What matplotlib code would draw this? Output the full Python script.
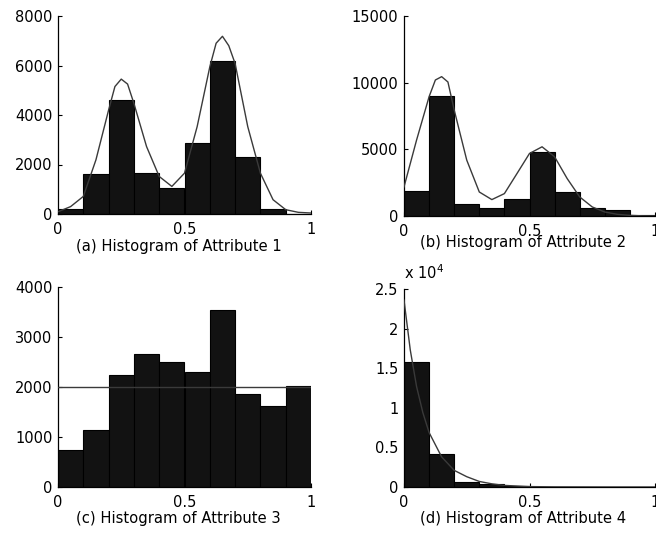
import numpy as np
import matplotlib.pyplot as plt

# bin counts per attribute (10 equal bins over [0, 1])
bin_edges = [0.0, 0.1, 0.2, 0.3, 0.4, 0.5, 0.6, 0.7, 0.8, 0.9, 1.0]
counts_1 = [200, 1610, 4600, 1650, 1050, 2860, 6170, 2300, 200, 20]
counts_2 = [1880, 9020, 880, 580, 1250, 4790, 1800, 580, 430, 80]
counts_3 = [750, 1150, 2250, 2660, 2500, 2300, 3550, 1870, 1620, 2030]
counts_4 = [15800, 4170, 670, 400, 120, 60, 40, 30, 20, 20]

# fitted density curves, sampled points
fit_x_1 = [0.0, 0.05, 0.1, 0.15, 0.2, 0.225, 0.25, 0.275, 0.3, 0.35, 0.4, 0.45,
           0.5, 0.55, 0.6, 0.625, 0.65, 0.675, 0.7, 0.75, 0.8, 0.85, 0.9, 0.95, 1.0]
fit_y_1 = [90, 300, 710, 2190, 4200, 5150, 5450, 5250, 4470, 2725, 1517, 1114,
           1650, 3530, 5945, 6900, 7180, 6800, 6080, 3530, 1650, 577, 175, 67, 40]
fit_x_2 = [0.0, 0.05, 0.1, 0.125, 0.15, 0.175, 0.2, 0.25, 0.3, 0.35, 0.4, 0.45,
           0.5, 0.55, 0.6, 0.65, 0.7, 0.75, 0.8, 0.85, 0.9, 0.95, 1.0]
fit_y_2 = [2180, 5690, 8950, 10200, 10450, 10050, 7950, 4190, 1800, 1230, 1680,
           3180, 4690, 5190, 4440, 2810, 1430, 677, 300, 125, 50, 10, 0]
fit_x_3 = [0.0, 1.0]
fit_y_3 = [2000, 2000]
fit_x_4 = [0.0, 0.025, 0.05, 0.075, 0.1, 0.15, 0.2, 0.25, 0.3, 0.35, 0.4, 0.5,
           0.6, 0.8, 1.0]
fit_y_4 = [23600, 17300, 12700, 9400, 6870, 3800, 2100, 1300, 700, 400, 200, 50,
           20, 5, 0]

captions = ['(a) Histogram of Attribute 1', '(b) Histogram of Attribute 2',
            '(c) Histogram of Attribute 3', '(d) Histogram of Attribute 4']

plt.rcParams['font.family'] = 'DejaVu Sans'
plt.rcParams['font.size'] = 10.5

fig = plt.figure(figsize=(6.56, 5.42), dpi=100)
W, H = 656.0, 542.0


def add_axes_px(left, top, right, bottom):
    return fig.add_axes([left / W, 1 - bottom / H, (right - left) / W, (bottom - top) / H])


panels = [
    (add_axes_px(58, 16, 311, 214), counts_1, fit_x_1, fit_y_1, 8000, [0, 2000, 4000, 6000, 8000], 1.0, 247),
    (add_axes_px(404, 16, 655, 216), counts_2, fit_x_2, fit_y_2, 15000, [0, 5000, 10000, 15000], 1.0, 243),
    (add_axes_px(58, 287, 311, 487), counts_3, fit_x_3, fit_y_3, 4000, [0, 1000, 2000, 3000, 4000], 1.0, 519),
    (add_axes_px(404, 289, 655, 487), counts_4, fit_x_4, fit_y_4, 25000, [0, 5000, 10000, 15000, 20000, 25000], 1e4, 519),
]

centers = np.array(bin_edges[:-1]) + 0.05
for i, (ax, counts, fx, fy, ymax, yticks, scale, cap_y) in enumerate(panels):
    ax.bar(centers, np.array(counts) / scale, width=0.1, color='#121212',
           edgecolor='#000000', linewidth=0.8, zorder=2)
    ax.plot(fx, np.array(fy) / scale, color='#3a3a3a', linewidth=1.0, zorder=3)
    ax.set_xlim(0, 1)
    ax.set_ylim(0, ymax / scale)
    ax.set_xticks([0, 0.5, 1])
    ax.set_xticklabels(['0', '0.5', '1'])
    ax.set_yticks(np.array(yticks) / scale)
    if scale == 1.0:
        ax.set_yticklabels([str(t) for t in yticks])
    else:
        ax.set_yticklabels(['0', '0.5', '1', '1.5', '2', '2.5'])
    for side in ['top', 'right']:
        ax.spines[side].set_visible(False)
    for side in ['left', 'bottom']:
        ax.spines[side].set_linewidth(0.9)
    ax.tick_params(direction='in', length=3, width=0.8, labelsize=10.5)
    ax.tick_params(axis='x', pad=6)
    ax.tick_params(axis='y', pad=4)
    ax.patch.set_alpha(0)
    fig.text(ax.get_position().x0 + ax.get_position().width / 2 - 6 / W,
             1 - cap_y / H, captions[i], ha='center', va='center', fontsize=10.6)

# exponent marker for the fourth panel
fig.text(404 / W, 1 - 273 / H, r'x 10$^4$', fontsize=10.5, ha='left', va='center')

fig.savefig('out.png', dpi=100)
